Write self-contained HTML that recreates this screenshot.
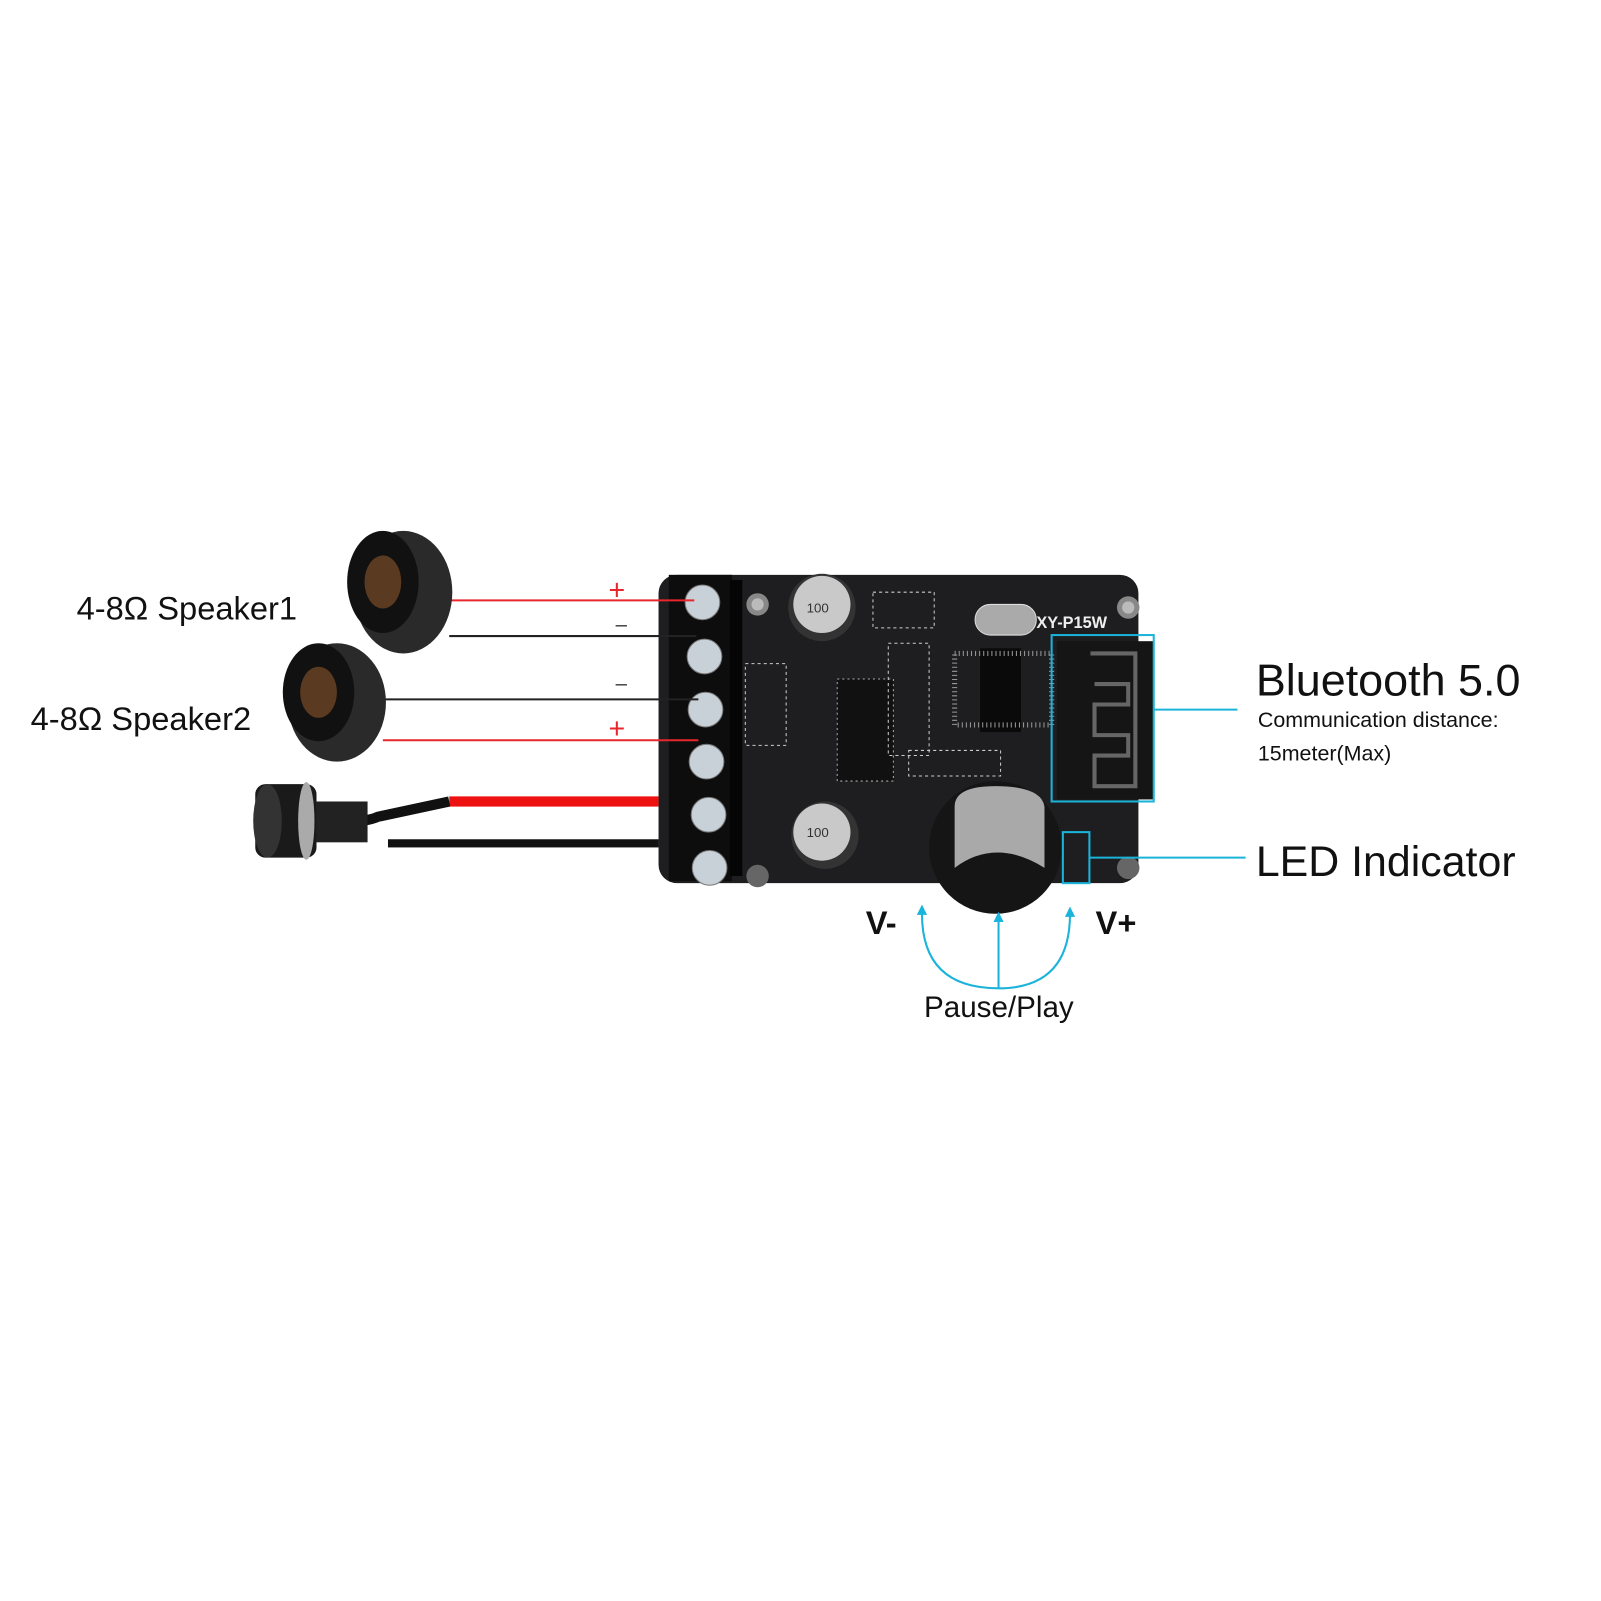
<!DOCTYPE html>
<html><head><style>
body{margin:0;background:#fff;}
svg{display:block}
text{font-family:"Liberation Sans",sans-serif;}
</style></head><body>
<svg width="1601" height="1601" viewBox="0 0 1601 1601" xmlns="http://www.w3.org/2000/svg">
<rect width="1601" height="1601" fill="#fff"/>
<g transform="scale(1.021)">
<!-- board -->
<rect x="645" y="563" width="470" height="302" rx="18" fill="#1e1e20"/>
<circle cx="742" cy="592" r="11" fill="#888"/><circle cx="742" cy="592" r="6" fill="#bbb"/>
<circle cx="1105" cy="595" r="11" fill="#888"/><circle cx="1105" cy="595" r="6" fill="#bbb"/>
<circle cx="742" cy="858" r="11" fill="#666"/>
<circle cx="1105" cy="850" r="11" fill="#666"/>
<!-- terminal block -->
<rect x="655" y="563" width="62" height="300" fill="#0d0d0d"/>
<rect x="715" y="568" width="12" height="290" fill="#050505"/>
<g fill="#c8d0d8" stroke="#777" stroke-width="1">
<circle cx="688" cy="590" r="17"/><circle cx="690" cy="643" r="17"/><circle cx="691" cy="695" r="17"/>
<circle cx="692" cy="746" r="17"/><circle cx="694" cy="798" r="17"/><circle cx="695" cy="850" r="17"/>
</g>
<!-- capacitors -->
<circle cx="805" cy="595" r="33" fill="#333"/><circle cx="805" cy="592" r="28" fill="#c9c9c9"/>
<text x="790" y="600" font-size="13" fill="#333">100</text>
<circle cx="808" cy="818" r="33" fill="#333"/><circle cx="805" cy="815" r="28" fill="#c9c9c9"/>
<text x="790" y="820" font-size="13" fill="#333">100</text>
<!-- crystal -->
<rect x="955" y="592" width="60" height="30" rx="15" fill="#aaa" stroke="#ddd"/>
<!-- chips -->
<rect x="820" y="665" width="55" height="100" fill="#111" stroke="#aaa" stroke-dasharray="2 3"/>
<rect x="960" y="635" width="40" height="82" fill="#0a0a0a"/>
<rect x="935" y="640" width="95" height="70" fill="none" stroke="#999" stroke-dasharray="1 3" stroke-width="5"/>
<rect x="870" y="630" width="40" height="110" fill="none" stroke="#ccc" stroke-dasharray="3 3"/>
<rect x="730" y="650" width="40" height="80" fill="none" stroke="#ccc" stroke-dasharray="3 3"/>
<rect x="855" y="580" width="60" height="35" fill="none" stroke="#ccc" stroke-dasharray="3 3"/>
<rect x="890" y="735" width="90" height="25" fill="none" stroke="#ccc" stroke-dasharray="3 3"/>
<!-- bt module -->
<rect x="1035" y="628" width="95" height="155" fill="#151515"/>
<path d="M1068 640 H1112 V770 H1072 V740 H1105 V720 H1072 V690 H1105 V670 H1072" fill="none" stroke="#666" stroke-width="4"/>
<!-- rotary -->
<circle cx="975" cy="830" r="65" fill="#151515"/>
<path d="M935 790 Q935 770 975 770 Q1020 770 1023 790 V850 Q975 820 935 850 Z" fill="#a9a9a9"/>
<text x="1015" y="615" font-size="16" fill="#eee" font-weight="bold">XY-P15W</text>
<!-- cyan annotations -->
<g fill="none" stroke="#1ab3d9" stroke-width="2">
<rect x="1030" y="622" width="100" height="163"/>
<line x1="1130" y1="695" x2="1212" y2="695"/>
<rect x="1041" y="815" width="26" height="50"/>
<line x1="1067" y1="840" x2="1220" y2="840"/>
<line x1="978" y1="968" x2="978" y2="900"/>
<path d="M978 968 Q903 968 903 895"/>
<path d="M978 968 Q1048 968 1048 895"/>
</g>
<g fill="#1ab3d9"><path d="M978 893 l-5 10 h10z"/><path d="M903 886 l-5 10 h10z"/><path d="M1048 888 l-5 10 h10z"/></g>
<!-- wires -->
<line x1="440" y1="588" x2="680" y2="588" stroke="#e8262b" stroke-width="2"/>
<line x1="440" y1="623" x2="682" y2="623" stroke="#222" stroke-width="2"/>
<line x1="375" y1="685" x2="684" y2="685" stroke="#222" stroke-width="2"/>
<line x1="375" y1="725" x2="684" y2="725" stroke="#e8262b" stroke-width="2"/>
<text x="596" y="587" font-size="28" fill="#e8262b">+</text>
<text x="603" y="618" font-size="20" fill="#333">–</text>
<text x="603" y="676" font-size="20" fill="#333">–</text>
<text x="596" y="723" font-size="28" fill="#e8262b">+</text>
<rect x="440" y="780" width="205" height="10" fill="#ee1111"/>
<rect x="380" y="822" width="265" height="8" fill="#111"/>
<path d="M330 805 Q360 805 370 800 L440 785" stroke="#111" stroke-width="10" fill="none"/>
<!-- jack -->
<rect x="250" y="768" width="60" height="72" rx="10" fill="#1a1a1a"/>
<ellipse cx="262" cy="804" rx="14" ry="36" fill="#333"/>
<ellipse cx="300" cy="804" rx="8" ry="38" fill="#aaa"/>
<rect x="310" y="785" width="50" height="40" fill="#222"/>
<!-- speakers -->
<g>
<ellipse cx="395" cy="580" rx="48" ry="60" fill="#2a2a2a"/>
<ellipse cx="375" cy="570" rx="35" ry="50" fill="#111"/>
<ellipse cx="375" cy="570" rx="18" ry="26" fill="#5a3a20"/>
</g>
<g>
<ellipse cx="330" cy="688" rx="48" ry="58" fill="#2a2a2a"/>
<ellipse cx="312" cy="678" rx="35" ry="48" fill="#111"/>
<ellipse cx="312" cy="678" rx="18" ry="25" fill="#5a3a20"/>
</g>
<!-- labels -->
<text x="75" y="607" font-size="32" fill="#111">4-8Ω Speaker1</text>
<text x="30" y="715" font-size="32" fill="#111">4-8Ω Speaker2</text>
<text x="1230" y="681" font-size="44" fill="#111">Bluetooth 5.0</text>
<text x="1232" y="712" font-size="21" fill="#111">Communication distance:</text>
<text x="1232" y="745" font-size="21" fill="#111">15meter(Max)</text>
<text x="1230" y="858" font-size="42" fill="#111">LED  Indicator</text>
<text x="848" y="915" font-size="32" font-weight="bold" fill="#111">V-</text>
<text x="1073" y="915" font-size="32" font-weight="bold" fill="#111">V+</text>
<text x="905" y="996" font-size="29" fill="#111">Pause/Play</text>
</g>
</svg>
</body></html>
